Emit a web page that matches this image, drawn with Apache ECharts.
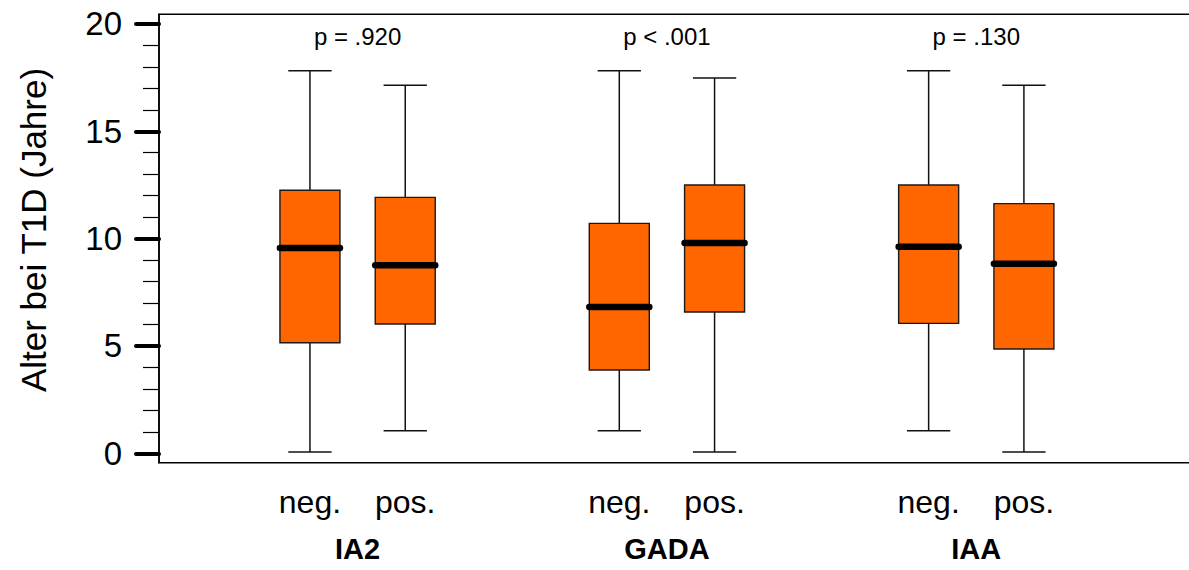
<!DOCTYPE html>
<html>
<head>
<meta charset="utf-8">
<script src="https://cdn.jsdelivr.net/npm/echarts@6/dist/echarts.min.js"></script>
<style>
  html, body { margin: 0; padding: 0; background: #fff; }
  #chart { width: 1189px; height: 570px; }
</style>
</head>
<body>
<div id="chart"></div>
<script>
// Antibody groups and status within each group
const groups = ['IA2', 'GADA', 'IAA'];
const statuses = ['neg.', 'pos.'];
const pLabels = ['p = .920', 'p < .001', 'p = .130'];

// Age at T1D onset per box: [min, Q1, median, Q3, max]
const negBoxes = [
  [0.06, 5.15, 9.56, 12.25, 17.82],
  [1.05, 3.88, 6.81, 10.71, 17.82],
  [1.05, 6.05, 9.62, 12.50, 17.82]
];
const posBoxes = [
  [1.05, 6.02, 8.76, 11.92, 17.14],
  [0.06, 6.58, 9.80, 12.50, 17.48],
  [0.06, 4.86, 8.83, 11.63, 17.14]
];

const yMajorTicks = [0, 5, 10, 15, 20];
const yMinorTicks = [1, 2, 3, 4, 6, 7, 8, 9, 11, 12, 13, 14, 16, 17, 18, 19];

const FONT = '"Liberation Sans", Arial, Helvetica, sans-serif';
const BOX_OFFSET = 0.154;   // distance of neg./pos. box from group centre
const BOX_WIDTH = 0.194;
const CAP_WIDTH = 0.14;

// Box positions and labels
const boxData = [];
const boxPositions = [];
const positionLabel = {};
groups.forEach((g, i) => {
  const centre = i + 1;
  [negBoxes[i], posBoxes[i]].forEach((stats, s) => {
    const x = centre + (s === 0 ? -BOX_OFFSET : BOX_OFFSET);
    boxData.push([x].concat(stats));
    boxPositions.push(x);
    positionLabel[x.toFixed(3)] = statuses[s];
  });
});
const groupPositions = groups.map((g, i) => i + 1);

function renderBox(params, api) {
  const x = api.value(0);
  const pMin = api.coord([x, api.value(1)]);
  const pQ1 = api.coord([x, api.value(2)]);
  const pMed = api.coord([x, api.value(3)]);
  const pQ3 = api.coord([x, api.value(4)]);
  const pMax = api.coord([x, api.value(5)]);
  const half = api.size([BOX_WIDTH, 0])[0] / 2;
  const capHalf = api.size([CAP_WIDTH, 0])[0] / 2;
  const cx = pMed[0];
  const lineStyle = { stroke: '#111', lineWidth: 1.5, fill: null };
  return {
    type: 'group',
    children: [
      { type: 'line', shape: { x1: cx, y1: pMax[1], x2: cx, y2: pMin[1] }, style: lineStyle },
      { type: 'line', shape: { x1: cx - capHalf, y1: pMax[1], x2: cx + capHalf, y2: pMax[1] }, style: lineStyle },
      { type: 'line', shape: { x1: cx - capHalf, y1: pMin[1], x2: cx + capHalf, y2: pMin[1] }, style: lineStyle },
      {
        type: 'rect',
        shape: { x: cx - half, y: pQ3[1], width: half * 2, height: pQ1[1] - pQ3[1] },
        style: { fill: '#FF6600', stroke: '#1a1a1a', lineWidth: 1.4 }
      },
      {
        type: 'line',
        shape: { x1: cx - half, y1: pMed[1], x2: cx + half, y2: pMed[1] },
        style: { stroke: '#000', lineWidth: 6.5, lineCap: 'round' }
      }
    ]
  };
}

const chart = echarts.init(document.getElementById('chart'), null, { renderer: 'svg' });

chart.setOption({
  animation: false,
  backgroundColor: '#fff',
  textStyle: { fontFamily: FONT },
  grid: {
    left: 159, top: 14.3, right: -10, bottom: 107.3,
    outerBoundsMode: 'none',
    show: true, borderColor: '#000', borderWidth: 1.5, backgroundColor: 'transparent'
  },
  xAxis: [
    {
      type: 'value', min: 0.358, max: 3.72, position: 'bottom',
      axisLine: { show: false }, axisTick: { show: false }, splitLine: { show: false },
      axisLabel: {
        customValues: boxPositions,
        formatter: v => positionLabel[Number(v).toFixed(3)] || '',
        fontSize: 32, color: '#000', margin: 23, fontFamily: FONT
      }
    },
    {
      type: 'value', min: 0.358, max: 3.72, position: 'bottom',
      axisLine: { show: false }, axisTick: { show: false }, splitLine: { show: false },
      axisLabel: {
        customValues: groupPositions,
        formatter: v => groups[Math.round(v) - 1] || '',
        fontSize: 29, fontWeight: 'bold', color: '#000', margin: 72, fontFamily: FONT
      }
    },
    {
      type: 'value', min: 0.358, max: 3.72, position: 'top',
      axisLine: { show: false }, axisTick: { show: false }, splitLine: { show: false },
      axisLabel: {
        inside: true,
        customValues: groupPositions,
        formatter: v => pLabels[Math.round(v) - 1] || '',
        fontSize: 24, color: '#000', margin: 10, fontFamily: FONT
      }
    }
  ],
  yAxis: [
    {
      type: 'value', min: -0.44, max: 20.45, position: 'left',
      name: 'Alter bei T1D (Jahre)',
      nameLocation: 'middle', nameGap: 108,
      nameTextStyle: { fontSize: 35, color: '#000', fontFamily: FONT, padding: [0, 0, 0, 17] },
      axisLine: { show: true, lineStyle: { color: '#000', width: 1.5 } },
      axisTick: {
        customValues: yMajorTicks, length: 23,
        lineStyle: { color: '#000', width: 4, cap: 'round' }
      },
      axisLabel: {
        customValues: yMajorTicks, fontSize: 33, color: '#000', margin: 37, fontFamily: FONT
      },
      splitLine: { show: false }
    },
    {
      type: 'value', min: -0.44, max: 20.45, position: 'left', offset: 0,
      axisLine: { show: false },
      axisTick: {
        customValues: yMinorTicks, length: 16,
        lineStyle: { color: '#000', width: 1.2 }
      },
      axisLabel: { show: false },
      splitLine: { show: false }
    }
  ],
  series: [
    {
      type: 'custom',
      xAxisIndex: 0,
      yAxisIndex: 0,
      renderItem: renderBox,
      encode: { x: 0, y: [1, 2, 3, 4, 5] },
      data: boxData,
      silent: true
    }
  ]
});
</script>
</body>
</html>
